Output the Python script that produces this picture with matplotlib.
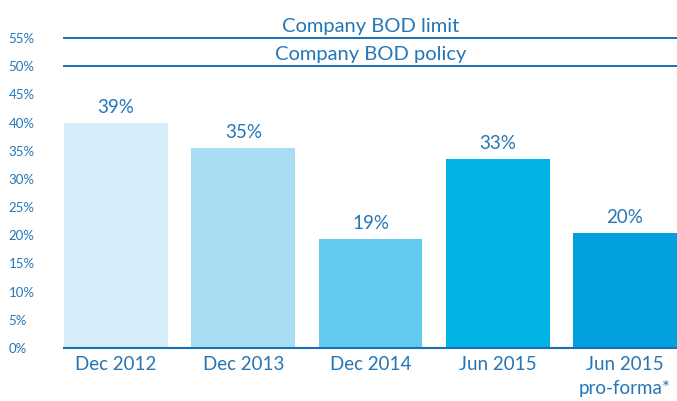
import matplotlib
matplotlib.use("Agg")
import matplotlib.pyplot as plt
from matplotlib.ticker import FuncFormatter

categories = ["Dec 2012", "Dec 2013", "Dec 2014", "Jun 2015", "Jun 2015\npro-forma*"]
values = [40.0, 35.5, 19.3, 33.5, 20.4]
value_labels = ["39%", "35%", "19%", "33%", "20%"]
bar_colors = ["#d6eef9", "#a8dcf3", "#62c9ef", "#00b4e8", "#00a1de"]
limit_value = 55
policy_value = 50
limit_label = "Company BOD limit"
policy_label = "Company BOD policy"
yticks = list(range(0, 60, 5))

text_color = "#2476b6"
line_color = "#1a70b5"

plt.rcParams['font.family'] = ['Lato', 'DejaVu Sans']
plt.rcParams['font.weight'] = 'normal'

fig = plt.figure(figsize=(6.77, 4.01), dpi=100)
ax = fig.add_axes([64/677, 1-348/401, 1-64/677, (348-38)/401])

x = list(range(len(categories)))
ax.bar(x, values, width=0.815, color=bar_colors, zorder=2)
for xi, v, lab in zip(x, values, value_labels):
    ax.annotate(lab, (xi, v), xytext=(0, 5), textcoords="offset points",
                ha="center", va="bottom", fontsize=13.5, color=text_color)

ax.axhline(limit_value, color=line_color, lw=1.4, clip_on=False, zorder=3)
ax.axhline(policy_value, color=line_color, lw=1.4, clip_on=False, zorder=3)
for val, lab in [(limit_value, limit_label), (policy_value, policy_label)]:
    ax.annotate(lab, (0.5, val), xycoords=ax.get_yaxis_transform(),
                xytext=(0, 2.5), textcoords="offset points",
                ha="center", va="bottom", fontsize=14.5, color=text_color)

ax.set_xlim(-0.41, len(categories) - 1 + 0.41)
ax.set_ylim(0, 55)
ax.set_yticks(yticks)
ax.yaxis.set_major_formatter(FuncFormatter(lambda v, p: f"{int(v)}%"))
ax.set_xticks(x)
ax.set_xticklabels(categories)

for s in ["top", "right", "left"]:
    ax.spines[s].set_visible(False)
ax.spines["bottom"].set_color(line_color)
ax.spines["bottom"].set_linewidth(1.5)
ax.tick_params(axis="y", length=0, pad=40, labelsize=9.5, labelcolor=text_color)
for t in ax.get_yticklabels():
    t.set_horizontalalignment("left")
ax.tick_params(axis="x", length=0, pad=6, labelsize=13.5, labelcolor=text_color)
for t in ax.get_xticklabels():
    t.set_linespacing(1.45)

fig.savefig("out.png", dpi=100)
